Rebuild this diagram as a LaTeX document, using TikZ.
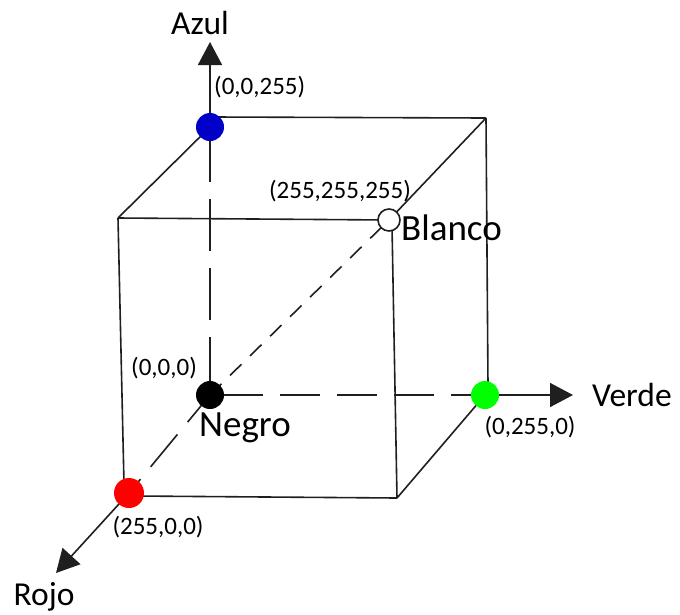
\documentclass[tikz,border=0pt]{standalone}
\usepackage{fontspec}
\setmainfont{Carlito}
\usetikzlibrary{arrows.meta}
\begin{document}
\begin{tikzpicture}[x=1pt,y=-1pt,
  edge/.style={line width=1.6pt,draw=black!88},
  axisarrow/.style={edge,-{Triangle[length=23pt,width=24pt]}},
  dot/.style={circle,inner sep=0pt,minimum size=28pt},
  axislabel/.style={font=\fontsize{33.5}{37}\selectfont,inner sep=0pt},
  namelabel/.style={font=\fontsize{37}{41}\selectfont,inner sep=0pt},
  coordlabel/.style={font=\fontsize{25}{29}\selectfont,inner sep=0pt}]
\useasboundingbox (0,0) rectangle (680,614);
% key points
\coordinate (O) at (210,395);
\coordinate (B) at (210,127);
\coordinate (G) at (485,395);
\coordinate (R) at (129,493);
\coordinate (W) at (389,220);
\coordinate (BTop) at (214,117);
\coordinate (BTR) at (486,118);
\coordinate (GTop) at (488,385);
\coordinate (FTL) at (118,218);
\coordinate (RTop) at (124,484);
\coordinate (RBot) at (135,496);
\coordinate (WBot) at (392,226);
\coordinate (FBR) at (397,498);
\coordinate (AzulTip) at (210,42);
\coordinate (VerdeTip) at (573,395);
\coordinate (RojoTip) at (56,573);
\coordinate (VStart) at (210,130);
\coordinate (HStart) at (223,395);
% axes
\draw[axisarrow] (B) -- (AzulTip);
\draw[axisarrow] (G) -- (VerdeTip);
\draw[axisarrow] (R) -- (RojoTip);
\draw[edge,dash pattern=on 52pt off 17pt] (VStart) -- (O);
\draw[edge,dash pattern=on 40pt off 17pt] (HStart) -- (G);
\draw[edge,dash pattern=on 42pt off 16pt,dash phase=24pt] (R) -- (O);
\draw[edge,dash pattern=on 16pt off 12pt] (O) -- (W);
% cube edges
\draw[edge] (BTop) -- (BTR);
\draw[edge] (BTR) -- (GTop);
\draw[edge] (BTR) -- (W);
\draw[edge] (B) -- (FTL);
\draw[edge] (FTL) -- (W);
\draw[edge] (FTL) -- (RTop);
\draw[edge] (RBot) -- (FBR);
\draw[edge] (WBot) -- (FBR);
\draw[edge] (FBR) -- (G);
% dots
\node[dot,fill=black] (Odot) at (O) {};
\node[dot,fill={rgb,255:red,0;green,0;blue,200}] (Bdot) at (B) {};
\node[dot,fill={rgb,255:red,0;green,255;blue,0}] (Gdot) at (G) {};
\node[dot,fill={rgb,255:red,255;green,0;blue,0},minimum size=30pt] (Rdot) at (R) {};
\node[circle,inner sep=0pt,minimum size=22pt,fill=white,draw=black!88,line width=1.6pt] (Wdot) at (W) {};
% labels
\node[axislabel] (azul) at (200,23) {Azul};
\node[axislabel,anchor=west] (verde) at (592,395) {Verde};
\node[axislabel] (rojo) at (44,597) {Rojo};
\node[namelabel,anchor=west] (blanco) at (401,228) {Blanco};
\node[namelabel,anchor=west] (negro) at (199,428) {Negro};
\node[coordlabel,anchor=west] (c1) at (214,87) {(0,0,255)};
\node[coordlabel,anchor=east] (c2) at (411,191) {(255,255,255)};
\node[coordlabel] (c3) at (164,368) {(0,0,0)};
\node[coordlabel] (c4) at (530,427) {(0,255,0)};
\node[coordlabel] (c5) at (158,527) {(255,0,0)};
\end{tikzpicture}
\end{document}
